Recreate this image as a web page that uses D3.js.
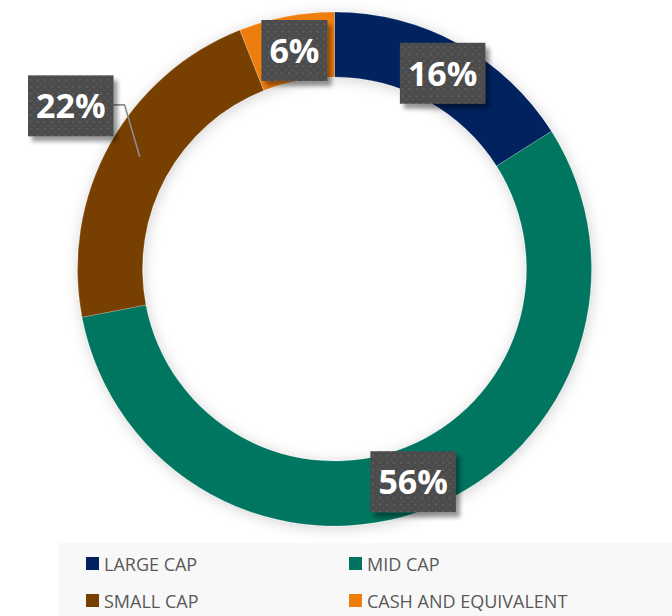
<!DOCTYPE html>
<html>
<head>
<meta charset="utf-8">
<script src="https://cdn.jsdelivr.net/npm/d3@7"></script>
<style>
  html, body { margin: 0; padding: 0; background: #fff; }
  svg { display: block; }
</style>
</head>
<body>
<div id="chart"></div>
<script>
// data
const categories = ["LARGE CAP", "MID CAP", "SMALL CAP", "CASH AND EQUIVALENT"];
const values = [16, 56, 22, 6];
const colors = ["#00205f", "#00745e", "#783f02", "#ef7d0a"];

const width = 672, height = 616;
const cx = 334.5, cy = 269;
const outerR = 257, innerR = 192;

// manual nudges of the data labels (Excel moved the 22% one out of the ring)
const labelShift = [[0, 1], [-4, 4], [-67, -55], [2, 2]];

const svg = d3.select("#chart").append("svg")
    .attr("width", width)
    .attr("height", height);

const defs = svg.append("defs");

// soft glow shadow around the ring
const ringShadow = defs.append("filter").attr("id", "ringShadow")
    .attr("x", "-10%").attr("y", "-10%").attr("width", "120%").attr("height", "120%");
ringShadow.append("feDropShadow")
    .attr("dx", 1).attr("dy", 2)
    .attr("stdDeviation", 7)
    .attr("flood-color", "#000")
    .attr("flood-opacity", 0.18);

// shadow for the label boxes
const boxShadow = defs.append("filter").attr("id", "boxShadow")
    .attr("x", "-20%").attr("y", "-20%").attr("width", "150%").attr("height", "150%");
boxShadow.append("feDropShadow")
    .attr("dx", 4).attr("dy", 5)
    .attr("stdDeviation", 2)
    .attr("flood-color", "#000")
    .attr("flood-opacity", 0.4);

// dotted texture of the label boxes
const dots = defs.append("pattern").attr("id", "dots")
    .attr("width", 7).attr("height", 7)
    .attr("patternUnits", "userSpaceOnUse");
dots.append("rect").attr("width", 7).attr("height", 7).attr("fill", "#4b4b4b");
dots.append("circle").attr("cx", 2).attr("cy", 2).attr("r", 1.3).attr("fill", "#5c5c5c");
dots.append("circle").attr("cx", 5.5).attr("cy", 5.5).attr("r", 1.1).attr("fill", "#575757");

const g = svg.append("g").attr("transform", "translate(" + cx + "," + cy + ")");

const pie = d3.pie().sort(null).value(function(d) { return d; });
const arcs = pie(values);

const arc = d3.arc().innerRadius(innerR).outerRadius(outerR);
const midArc = d3.arc().innerRadius((innerR + outerR) / 2).outerRadius((innerR + outerR) / 2);

g.append("g")
    .attr("filter", "url(#ringShadow)")
    .selectAll("path")
    .data(arcs)
    .enter().append("path")
    .attr("d", arc)
    .attr("fill", function(d, i) { return colors[i]; })
    .attr("stroke", "#ffffff")
    .attr("stroke-opacity", 0.35)
    .attr("stroke-width", 0.6);

// data labels
const labels = g.append("g").selectAll(".lbl")
    .data(arcs)
    .enter().append("g")
    .attr("class", "lbl")
    .attr("transform", function(d, i) {
        const c = midArc.centroid(d);
        return "translate(" + (c[0] + labelShift[i][0]) + "," + (c[1] + labelShift[i][1]) + ")";
    });

const boxH = 61;

labels.each(function(d, i) {
    const el = d3.select(this);
    const rect = el.append("rect")
        .attr("fill", "url(#dots)")
        .attr("filter", "url(#boxShadow)");
    const txt = el.append("text")
        .attr("text-anchor", "middle")
        .attr("dy", "0.37em")
        .attr("fill", "#ffffff")
        .style("font-family", "'Open Sans', sans-serif")
        .style("font-weight", 700)
        .style("font-size", "34px")
        .text(d.data + "%");
    const w = txt.node().getComputedTextLength() + 16;
    rect.attr("x", -w / 2).attr("y", -boxH / 2).attr("width", w).attr("height", boxH);

    // leader line for the label that was pulled out
    if (Math.abs(labelShift[i][0]) > 20) {
        const c = midArc.centroid(d);
        const x0 = w / 2, y0 = -1;
        const pts = [[x0, y0], [x0 + 11, y0], [c[0] - (c[0] + labelShift[i][0]) + 2, c[1] - (c[1] + labelShift[i][1]) - 4]];
        el.insert("path", "rect")
            .attr("d", d3.line()(pts))
            .attr("fill", "none")
            .attr("stroke", "#8c8c8c")
            .attr("stroke-width", 1.6);
    }
});

// legend
const legend = svg.append("g");
legend.append("rect")
    .attr("x", 58).attr("y", 543)
    .attr("width", width - 58).attr("height", height - 543)
    .attr("fill", "#f8f8f8");

const colX = [86, 349];
const rowY = [557, 594];

const item = legend.selectAll(".item")
    .data(categories)
    .enter().append("g")
    .attr("class", "item")
    .attr("transform", function(d, i) {
        return "translate(" + colX[i % 2] + "," + rowY[Math.floor(i / 2)] + ")";
    });

item.append("rect")
    .attr("width", 13).attr("height", 13)
    .attr("fill", function(d, i) { return colors[i]; });

item.append("text")
    .attr("x", 18)
    .attr("y", 13.5)
    .attr("fill", "#595959")
    .style("font-family", "'Open Sans', sans-serif")
    .style("font-size", "18px")
    .text(function(d) { return d; });
</script>
</body>
</html>
